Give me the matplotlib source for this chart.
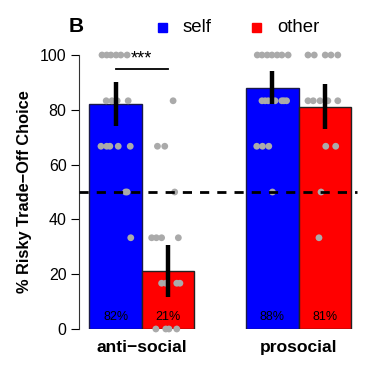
import numpy as np
import matplotlib.pyplot as plt
from matplotlib.patches import Rectangle

plt.rcParams['font.family'] = ['Liberation Sans', 'DejaVu Sans']

groups = ['anti\u2212social', 'prosocial']
conditions = ['self', 'other']
colors = ['#0000ff', '#ff0000']
means = [82, 21, 88, 81]
err_lo = [74, 11.6, 82, 73]
err_hi = [90, 30.7, 94, 89.6]
pct_labels = ['82%', '21%', '88%', '81%']
bar_x = [0, 1, 3, 4]

# individual subjects: (x jitter, value)
dots_x = [
    # anti-social self
    -0.26, -0.17, -0.09, 0.01, 0.10, 0.22,
    -0.18, -0.07, 0.03, 0.24,
    -0.28, -0.17, -0.11, 0.05, 0.28,
    0.19, 0.22,
    0.29,
    # anti-social other
    1.10,
    0.80, 0.94,
    1.13,
    0.69, 0.78, 0.88, 1.20,
    0.88, 0.96, 1.17, 1.23,
    0.77, 0.96, 1.02, 1.17,
    # prosocial self
    2.71, 2.80, 2.90, 2.99, 3.09, 3.18, 3.30,
    2.80, 2.86, 2.92, 3.05, 3.18, 3.22, 3.27,
    2.70, 2.81, 2.93,
    3.00,
    # prosocial other
    3.68, 3.80, 4.01, 4.12, 4.25,
    3.68, 3.78, 3.91, 4.06, 4.25,
    4.02, 4.21,
    3.93,
    3.89,
]
dots_y = [
    100, 100, 100, 100, 100, 100,
    83.3, 83.3, 83.3, 83.3,
    66.7, 66.7, 66.7, 66.7, 66.7,
    50, 50,
    33.3,
    83.3,
    66.7, 66.7,
    50,
    33.3, 33.3, 33.3, 33.3,
    16.7, 16.7, 16.7, 16.7,
    0, 0, 0, 0,
    100, 100, 100, 100, 100, 100, 100,
    83.3, 83.3, 83.3, 83.3, 83.3, 83.3, 83.3,
    66.7, 66.7, 66.7,
    50,
    100, 100, 100, 100, 100,
    83.3, 83.3, 83.3, 83.3, 83.3,
    66.7, 66.7,
    50,
    33.3,
]

fig = plt.figure(figsize=(3.75, 3.75), dpi=100)
ax = fig.add_axes([0.2107, 0.1227, 0.7528, 0.7306])

bar_colors = [colors[0], colors[1], colors[0], colors[1]]
edges = ['#1a1a4a', '#222222', '#1a1a4a', '#222222']
ax.bar(bar_x, means, width=1.0, color=bar_colors, edgecolor=edges,
       linewidth=1.0, zorder=1)

ax.scatter(dots_x, dots_y, s=24, color='#aaaaaa', edgecolors='none',
           zorder=3, clip_on=False)

ax.axhline(50, xmin=0.0, xmax=0.985, color='black', linestyle=(0, (3.3, 2.9)),
           linewidth=2, zorder=4)

ax.vlines(bar_x, err_lo, err_hi, color='black', linewidth=3.2, zorder=5)

for x, lab in zip(bar_x, pct_labels):
    ax.text(x, 4.5, lab, ha='center', va='center', fontsize=9, zorder=6)

# significance bracket
ax.plot([0, 1], [95, 95], color='black', linewidth=1.3, clip_on=False)
ax.text(0.5, 98.5, '***', ha='center', va='center', fontsize=13)

ax.set_xlim(-0.7, 4.7)
ax.set_ylim(0, 100)
ax.set_yticks([0, 20, 40, 60, 80, 100])
ax.tick_params(axis='y', labelsize=11.5, length=6, width=0.8, pad=3)
ax.set_xticks([0.5, 3.5])
ax.set_xticklabels(groups, fontsize=12.6, fontweight='bold')
ax.tick_params(axis='x', length=0, pad=8)
for s in ['top', 'right', 'bottom']:
    ax.spines[s].set_visible(False)
ax.spines['left'].set_linewidth(0.8)
ax.spines['left'].set_color('#333333')
ax.set_ylabel('% Risky Trade\u2212Off Choice', fontsize=11.8, fontweight='bold',
              labelpad=6)

fig.text(69 / 375, 1 - 27 / 375, 'B', fontsize=15, fontweight='bold',
         va='center', ha='left')
for i, (lab, c) in enumerate(zip(conditions, colors)):
    sx = [158, 252][i]
    fig.patches.append(Rectangle((sx / 375, 1 - 32 / 375), 9 / 375, 9 / 375,
                                 transform=fig.transFigure, color=c))
    fig.text((sx + 25) / 375, 1 - 27 / 375, lab, fontsize=13.4,
             va='center', ha='left')

fig.savefig('out.png', dpi=100)
